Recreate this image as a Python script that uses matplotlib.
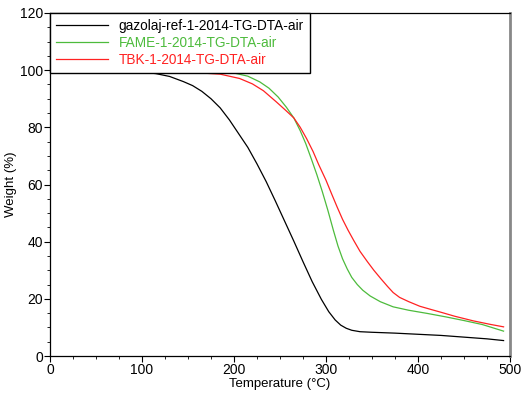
import matplotlib
matplotlib.use("Agg")
import matplotlib.pyplot as plt
from matplotlib.ticker import MultipleLocator

plt.rcParams['font.family'] = ['Liberation Sans', 'DejaVu Sans']

labels = ["gazolaj-ref-1-2014-TG-DTA-air", "FAME-1-2014-TG-DTA-air", "TBK-1-2014-TG-DTA-air"]
colors = ["#000000", "#4dbb3c", "#ff2222"]

t_black = [25, 50, 75, 100, 115, 130, 145, 155, 165, 175, 185, 195, 205, 215, 225, 235, 245, 255,
           265, 275, 285, 295, 303, 310, 316, 322, 328, 337, 350, 375, 400, 425, 450, 475, 493]
w_black = [100, 99.9, 99.7, 99.3, 98.8, 97.8, 96.0, 94.6, 92.6, 90.0, 86.8, 82.6, 77.8, 73.0, 67.2, 61.0,
           54.2, 47.2, 40.2, 33.0, 26.0, 19.8, 15.5, 12.6, 10.8, 9.7, 9.0, 8.5, 8.3, 8.0, 7.6, 7.2, 6.6, 6.0, 5.4]

t_green = [25, 100, 150, 185, 200, 215, 228, 238, 248, 257, 265, 272, 278, 284, 290, 296, 302, 308,
           313, 318, 323, 328, 334, 340, 348, 359, 373, 390, 410, 430, 450, 470, 493]
w_green = [100, 99.9, 99.7, 99.4, 99.0, 97.9, 95.9, 93.7, 90.6, 87.0, 83.3, 78.8, 74.3, 69.0, 63.5, 57.5,
           51.0, 44.0, 38.5, 34.0, 30.5, 27.5, 25.0, 23.0, 21.0, 19.0, 17.2, 16.0, 14.9, 13.7, 12.4, 11.0, 8.7]

t_red = [25, 100, 150, 185, 206, 220, 232, 246, 256, 265, 272, 279, 286, 292, 300, 306, 312, 318,
         324, 330, 337, 345, 352, 360, 367, 373, 380, 390, 402, 415, 425, 440, 460, 478, 493]
w_red = [100, 99.7, 99.3, 98.6, 97.1, 95.2, 92.8, 88.9, 86.0, 83.3, 80.0, 76.0, 71.5, 67.0, 61.5, 56.8,
         52.2, 47.8, 44.0, 40.5, 36.6, 33.0, 30.0, 26.9, 24.3, 22.2, 20.5, 19.0, 17.4, 16.2, 15.3, 13.9,
         12.3, 11.1, 10.2]

fig = plt.figure(figsize=(5.28, 3.94), dpi=100)
ax = fig.add_axes([50/528, 38/394, 460/528, 343/394])

series = [(t_black, w_black), (t_green, w_green), (t_red, w_red)]
for (t, w), c, lab in zip(series, colors, labels):
    ax.plot(t, w, color=c, lw=0.9, label=lab, solid_joinstyle='round')

ax.set_xlim(0, 500)
ax.set_ylim(0, 120)
ax.xaxis.set_major_locator(MultipleLocator(100))
ax.xaxis.set_minor_locator(MultipleLocator(25))
ax.yaxis.set_major_locator(MultipleLocator(20))
ax.yaxis.set_minor_locator(MultipleLocator(5))
ax.tick_params(which='major', direction='out', length=4, width=0.8, labelsize=10, pad=1)
ax.tick_params(which='minor', direction='out', length=2, width=0.6)
for s in ['left', 'bottom', 'top']:
    ax.spines[s].set_linewidth(0.9)
    ax.spines[s].set_color('black')
ax.spines['right'].set_color('#888888')
ax.spines['right'].set_linewidth(2)

ax.set_xlabel('Temperature (°C)', fontsize=9.5, labelpad=1)
ax.set_ylabel('Weight (%)', fontsize=9.5, labelpad=2)

leg = ax.legend(loc='upper left', bbox_to_anchor=(0, 1), borderaxespad=0, fancybox=False,
                edgecolor='black', framealpha=1, fontsize=9.8, handlelength=3.8,
                handletextpad=0.8, labelspacing=0.2, borderpad=0.45)
leg.get_frame().set_linewidth(1.0)
for txt, c in zip(leg.get_texts(), colors):
    txt.set_color(c)

fig.savefig('out.png', dpi=100)
